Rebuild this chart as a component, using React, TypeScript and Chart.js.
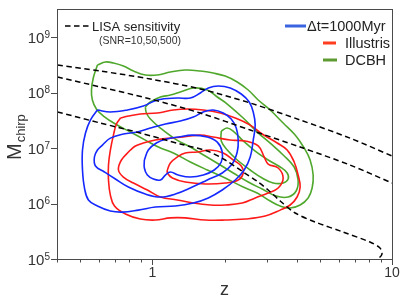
import React, { useEffect, useRef } from "react";
import { Chart, registerables } from "chart.js";

Chart.register(...registerables);

type P = [number, number];

// axis ticks
const xTicks = [0.4, 0.5, 0.6, 0.7, 0.8, 0.9, 1, 2, 3, 4, 5, 6, 7, 8, 9, 10];
const xTickLabels: Record<string, string> = { "1": "1", "10": "10" };
const yTickExps = [5, 6, 7, 8, 9];
const xRange = [0.4, 10];
const yRange = [1e5, 3.2e9];

// legend texts
const lisaLabel = "LISA sensitivity";
const lisaNote = "(SNR=10,50,500)";
const seriesLabels = ["Δt=1000Myr", "Illustris", "DCBH"];
const xTitle = "z";
const yTitleMain = "M";
const yTitleSub = "chirp";

// LISA sensitivity curves (z, Mchirp)
const lisaTop: P[] = [[0.402, 3.13e8], [0.607, 2.44e8], [0.981, 1.75e8], [1.585, 1.16e8], [2.561, 6.47e7], [4.137, 3.2e7], [6.68, 1.51e7], [10, 7.18e6]];
const lisaMid: P[] = [[0.402, 1.9e8], [0.607, 1.26e8], [0.981, 7.64e7], [1.585, 4.27e7], [2.561, 2.11e7], [4.137, 1.04e7], [6.68, 4.94e6], [10, 2.34e6]];
const lisaLow: P[] = [[0.402, 4.46e7], [0.607, 2.82e7], [0.891, 1.86e7], [1.308, 1.18e7], [1.695, 8.83e6], [2.014, 6.08e6], [2.394, 3.7e6], [2.765, 2.44e6], [3.043, 1.75e6], [3.415, 1.11e6], [3.944, 6.74e5], [4.78, 4.64e5], [6.25, 3.06e5], [8.09, 2.02e5], [8.91, 1.58e5], [9.08, 1.23e5], [8.74, 1.0e5], [8.41, 9.2e4]];

// Δt=1000Myr contours
const blueOuter: P[] = [[0.590, 4.84e7], [0.668, 4.46e7], [0.787, 4.84e7], [0.917, 5.71e7], [1.049, 7.33e7], [1.271, 7.96e7], [1.440, 7.96e7], [1.585, 9.8e7], [1.712, 1.21e8], [1.884, 1.31e8], [2.113, 1.21e8], [2.349, 9.4e7], [2.536, 6.75e7], [2.636, 4.46e7], [2.686, 2.59e7], [2.636, 1.39e7], [2.561, 6.89e6], [2.416, 4.02e6], [2.218, 2.65e6], [1.957, 1.75e6], [1.712, 1.26e6], [1.482, 1.02e6], [1.247, 9.0e5], [1.029, 8.65e5], [0.874, 7.6e5], [0.750, 7.0e5], [0.668, 7.33e5], [0.590, 9.0e5], [0.541, 1.16e6], [0.521, 1.9e6], [0.511, 4.02e6], [0.511, 9.2e6], [0.526, 1.86e7], [0.552, 3.2e7]];
const blueMid: P[] = [[0.619, 1.13e7], [0.668, 1.51e7], [0.757, 1.79e7], [0.866, 1.94e7], [0.981, 2.29e7], [1.133, 2.71e7], [1.308, 3.06e7], [1.482, 3.62e7], [1.631, 4.46e7], [1.795, 4.84e7], [1.976, 4.27e7], [2.133, 3.33e7], [2.239, 2.29e7], [2.282, 1.39e7], [2.260, 8.47e6], [2.154, 5.15e6], [1.957, 3.55e6], [1.695, 2.65e6], [1.468, 1.98e6], [1.247, 1.48e6], [1.080, 1.31e6], [0.935, 1.48e6], [0.794, 1.98e6], [0.701, 2.76e6], [0.631, 3.7e6], [0.579, 4.74e6], [0.573, 6.89e6], [0.590, 9.2e6]];
const blueInner: P[] = [[0.926, 6.08e6], [0.962, 9.2e6], [1.039, 1.23e7], [1.144, 1.45e7], [1.283, 1.58e7], [1.468, 1.71e7], [1.695, 1.58e7], [1.866, 1.28e7], [1.957, 8.47e6], [1.939, 5.6e6], [1.812, 4.02e6], [1.631, 3.26e6], [1.440, 3.0e6], [1.283, 3.26e6], [1.189, 3.7e6], [1.133, 3.26e6], [1.080, 2.65e6], [1.010, 2.76e6], [0.953, 3.26e6], [0.926, 4.36e6]];

// Illustris contours
const redOuter: P[] = [[0.736, 3.47e7], [0.794, 3.77e7], [0.891, 4.1e7], [1.049, 4.27e7], [1.223, 4.84e7], [1.399, 5.04e7], [1.631, 4.84e7], [1.920, 4.27e7], [2.218, 3.47e7], [2.561, 2.59e7], [2.873, 1.79e7], [3.319, 1.23e7], [3.652, 9.2e6], [3.906, 5.6e6], [4.056, 3.26e6], [4.137, 1.98e6], [4.018, 1.31e6], [3.758, 9.4e5], [3.415, 7.6e5], [2.957, 5.95e5], [2.441, 5.26e5], [2.014, 5.04e5], [1.663, 5.04e5], [1.372, 5.5e5], [1.189, 5.5e5], [1.029, 5.04e5], [0.891, 5.26e5], [0.772, 6.47e5], [0.695, 9.0e5], [0.668, 1.42e6], [0.656, 2.65e6], [0.656, 4.94e6], [0.668, 9.2e6], [0.688, 1.71e7], [0.708, 2.71e7]];
const redMid: P[] = [[0.810, 9.2e6], [0.743, 6.08e6], [0.722, 4.02e6], [0.757, 3.0e6], [0.834, 2.34e6], [0.953, 1.75e6], [1.080, 1.31e6], [1.271, 1.16e6], [1.482, 1.02e6], [1.745, 9.4e5], [2.014, 9.4e5], [2.371, 1.02e6], [2.686, 1.26e6], [3.043, 1.55e6], [3.350, 1.9e6], [3.514, 2.88e6], [3.350, 4.36e6], [3.043, 5.15e6], [2.929, 6.89e6], [2.765, 1.09e7], [2.441, 1.34e7], [2.113, 1.39e7], [1.795, 1.58e7], [1.585, 1.71e7], [1.346, 1.58e7], [1.189, 1.51e7], [1.029, 1.39e7], [0.917, 1.23e7], [0.850, 1.09e7]];
const redInner: P[] = [[1.155, 4.02e6], [1.189, 5.37e6], [1.271, 6.89e6], [1.372, 8.13e6], [1.540, 8.47e6], [1.745, 9.2e6], [1.976, 8.13e6], [2.175, 6.08e6], [2.349, 4.74e6], [2.394, 3.55e6], [2.282, 2.65e6], [2.014, 2.34e6], [1.663, 2.25e6], [1.372, 2.44e6], [1.212, 2.88e6], [1.155, 3.55e6]];

// DCBH contours
const greenOuter: P[] = [[0.590, 3.13e8], [0.637, 3.55e8], [0.688, 3.4e8], [0.757, 3.0e8], [0.834, 2.44e8], [0.935, 2.07e8], [1.049, 2.07e8], [1.189, 2.34e8], [1.372, 2.54e8], [1.585, 2.44e8], [1.795, 2.24e8], [2.014, 1.98e8], [2.260, 1.55e8], [2.512, 1.11e8], [2.765, 7.33e7], [3.102, 4.84e7], [3.514, 2.82e7], [3.944, 1.71e7], [4.30, 1.0e7], [4.553, 6.08e6], [4.688, 3.26e6], [4.642, 1.9e6], [4.467, 1.26e6], [4.137, 9.4e5], [3.758, 8.3e5], [3.415, 9.0e5], [3.102, 1.11e6], [2.738, 1.55e6], [2.394, 1.98e6], [2.014, 2.88e6], [1.695, 4.02e6], [1.440, 5.6e6], [1.223, 8.13e6], [1.059, 1.04e7], [0.935, 1.39e7], [0.810, 1.94e7], [0.701, 2.71e7], [0.625, 3.77e7], [0.584, 5.04e7], [0.562, 7.33e7], [0.557, 1.11e8], [0.568, 1.9e8]];
const greenMid: P[] = [[0.935, 5.48e7], [0.981, 6.75e7], [1.080, 8.3e7], [1.189, 9.0e7], [1.308, 1.02e8], [1.482, 1.21e8], [1.695, 1.11e8], [1.866, 8.3e7], [2.054, 6.21e7], [2.394, 3.47e7], [2.738, 1.94e7], [3.102, 1.23e7], [3.514, 7.48e6], [3.906, 4.55e6], [4.056, 2.65e6], [3.981, 1.68e6], [3.687, 1.31e6], [3.287, 1.36e6], [2.873, 1.82e6], [2.512, 2.44e6], [2.175, 3.55e6], [1.920, 4.94e6], [1.663, 7.18e6], [1.440, 1.04e7], [1.247, 1.45e7], [1.080, 2.29e7], [0.981, 3.33e7], [0.944, 4.27e7]];
const greenInner: P[] = [[1.939, 2.02e7], [2.054, 2.29e7], [2.196, 1.94e7], [2.394, 1.34e7], [2.686, 8.83e6], [3.043, 6.08e6], [3.415, 4.55e6], [3.652, 3.55e6], [3.687, 2.76e6], [3.514, 2.34e6], [3.192, 2.34e6], [2.873, 2.88e6], [2.561, 4.02e6], [2.260, 6.08e6], [2.054, 9.2e6], [1.939, 1.34e7]];

const BLUE = "#1428ff";
const RED = "#ff1a1a";
const GREEN = "#4fa82c";
const FONT = '"Liberation Sans", Arial, Helvetica, sans-serif';

const pts = (p: P[], closed: boolean) => {
  const d = p.map(([x, y]) => ({ x, y }));
  if (closed) d.push({ ...d[0] });
  return d;
};

const contour = (p: P[], color: string, order: number) => ({
  data: pts(p, true),
  showLine: true,
  borderColor: color,
  borderWidth: 1.6,
  pointRadius: 0,
  tension: 0.4,
  fill: false,
  order,
  clip: 0,
});

const dashed = (p: P[]) => ({
  data: pts(p, false),
  showLine: true,
  borderColor: "#000",
  borderWidth: 1.5,
  borderDash: [5.5, 3.5],
  pointRadius: 0,
  tension: 0.3,
  fill: false,
  order: 0,
  clip: 0,
});

const overlay = {
  id: "overlay",
  afterDraw(chart: any) {
    const { ctx, chartArea: a } = chart;
    const xs = chart.scales.x;
    const ys = chart.scales.y;
    ctx.save();
    // frame
    ctx.strokeStyle = "#4a4a4a";
    ctx.lineWidth = 1;
    ctx.setLineDash([]);
    ctx.strokeRect(a.left + 0.5, a.top + 0.5, a.right - a.left, a.bottom - a.top);
    // ticks
    ctx.beginPath();
    for (const v of xTicks) {
      const px = Math.round(xs.getPixelForValue(v)) + 0.5;
      const major = xTickLabels[String(v)] !== undefined;
      ctx.moveTo(px, a.bottom + 0.5);
      ctx.lineTo(px, a.bottom + (major ? 6 : 3.5));
    }
    for (const e of yTickExps) {
      const py = Math.round(ys.getPixelForValue(Math.pow(10, e))) + 0.5;
      ctx.moveTo(a.left + 0.5, py);
      ctx.lineTo(a.left - 6, py);
    }
    ctx.stroke();

    // tick labels
    ctx.fillStyle = "#333";
    ctx.textBaseline = "alphabetic";
    ctx.font = `14px ${FONT}`;
    ctx.textAlign = "center";
    for (const v of xTicks) {
      const lab = xTickLabels[String(v)];
      if (lab) ctx.fillText(lab, xs.getPixelForValue(v), a.bottom + 18);
    }
    for (const e of yTickExps) {
      const py = ys.getPixelForValue(Math.pow(10, e));
      ctx.textAlign = "right";
      ctx.font = `10px ${FONT}`;
      const sup = String(e);
      const sw = ctx.measureText(sup).width;
      ctx.fillText(sup, a.left - 7, py + 0.5);
      ctx.font = `15px ${FONT}`;
      ctx.fillText("10", a.left - 7 - sw, py + 5.5);
    }

    // axis titles
    ctx.fillStyle = "#333";
    ctx.font = `18px ${FONT}`;
    ctx.textAlign = "center";
    ctx.fillText(xTitle, (a.left + a.right) / 2, 295);

    ctx.save();
    ctx.translate(21, 160);
    ctx.rotate(-Math.PI / 2);
    ctx.textAlign = "left";
    ctx.font = `20px ${FONT}`;
    ctx.fillText(yTitleMain, 0, 0);
    const mw = ctx.measureText(yTitleMain).width;
    ctx.font = `13px ${FONT}`;
    ctx.fillText(yTitleSub, mw + 1, 4);
    ctx.restore();

    // left legend
    ctx.strokeStyle = "#000";
    ctx.lineWidth = 1.5;
    ctx.setLineDash([5.5, 3.5]);
    ctx.beginPath();
    ctx.moveTo(65, 26);
    ctx.lineTo(89, 26);
    ctx.stroke();
    ctx.setLineDash([]);
    ctx.fillStyle = "#222";
    ctx.textAlign = "left";
    ctx.font = `13px ${FONT}`;
    ctx.fillText(lisaLabel, 92, 31);
    ctx.fillStyle = "#333";
    ctx.font = `10.5px ${FONT}`;
    ctx.fillText(lisaNote, 99, 44);

    // right legend
    const handles = [
      { color: "#3a63e0", x0: 285, x1: 306, y: 26, tx: 307, ty: 31 },
      { color: "#ff3d1f", x0: 323, x1: 336, y: 43, tx: 345, ty: 48 },
      { color: "#5e9a32", x0: 323, x1: 337, y: 60, tx: 345, ty: 65 },
    ];
    ctx.lineWidth = 3;
    handles.forEach((h, i) => {
      ctx.strokeStyle = h.color;
      ctx.beginPath();
      ctx.moveTo(h.x0, h.y);
      ctx.lineTo(h.x1, h.y);
      ctx.stroke();
      ctx.fillStyle = "#222";
      ctx.font = `14.5px ${FONT}`;
      ctx.fillText(seriesLabels[i], h.tx, h.ty);
    });
    ctx.restore();
  },
};

export default function App() {
  const ref = useRef<HTMLCanvasElement | null>(null);
  useEffect(() => {
    if (!ref.current) return;
    const chart = new Chart(ref.current, {
      type: "scatter",
      data: {
        datasets: [
          dashed(lisaTop),
          dashed(lisaMid),
          dashed(lisaLow),
          contour(blueOuter, BLUE, 1),
          contour(blueMid, BLUE, 1),
          contour(blueInner, BLUE, 1),
          contour(redOuter, RED, 2),
          contour(redMid, RED, 2),
          contour(redInner, RED, 2),
          contour(greenOuter, GREEN, 3),
          contour(greenMid, GREEN, 3),
          contour(greenInner, GREEN, 3),
        ] as any,
      },
      options: {
        animation: false,
        responsive: false,
        devicePixelRatio: 1,
        events: [],
        layout: { padding: { left: 0, right: 15, top: 9, bottom: 0 } },
        plugins: { legend: { display: false }, tooltip: { enabled: false } },
        scales: {
          x: {
            type: "logarithmic",
            min: xRange[0],
            max: xRange[1],
            grid: { display: false },
            ticks: { display: false },
            border: { display: false },
            afterFit: (s: any) => {
              s.height = 46;
            },
          },
          y: {
            type: "logarithmic",
            min: yRange[0],
            max: yRange[1],
            grid: { display: false },
            ticks: { display: false },
            border: { display: false },
            afterFit: (s: any) => {
              s.width = 57;
            },
          },
        },
      } as any,
      plugins: [overlay],
    });
    return () => chart.destroy();
  }, []);
  return (
    <div style={{ position: "fixed", left: 0, top: 0, width: 407, height: 305, background: "#fff" }}>
      <canvas ref={ref} width={407} height={305} style={{ display: "block" }} />
    </div>
  );
}
